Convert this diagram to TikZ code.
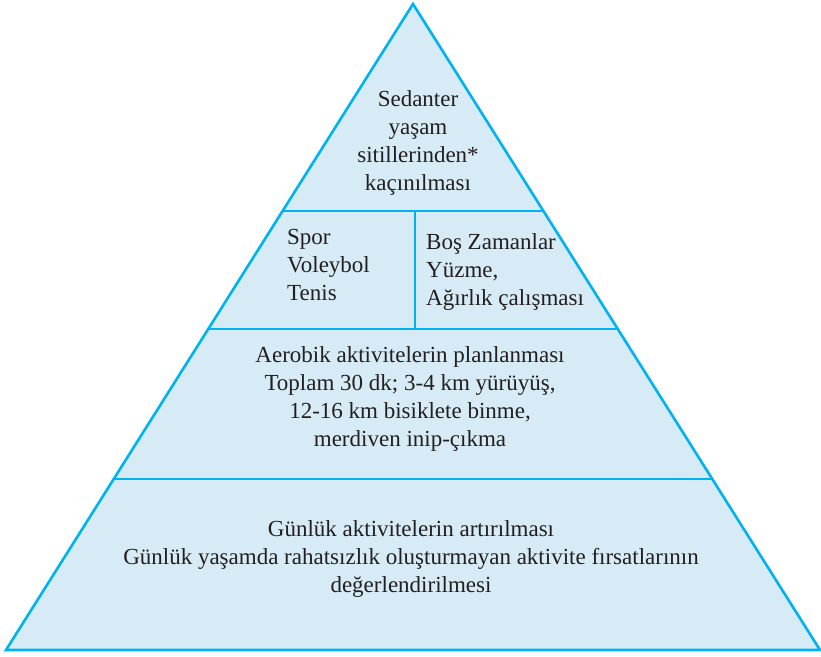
\documentclass[tikz,border=0pt]{standalone}
\usepackage{fontspec}
\setmainfont{Liberation Serif}
\usetikzlibrary{calc}
\definecolor{pyrline}{RGB}{0,178,240}
\definecolor{pyrfill}{RGB}{214,235,245}
\definecolor{pyrtext}{RGB}{35,31,32}
\tikzstyle{layer}=[draw=pyrline, line width=2.6pt]
\tikzstyle{txt}=[%
	inner sep=0, align=center, text=pyrtext,
	font=\fontsize{23}{27.7}\selectfont
]
\tikzstyle{txtl}=[txt, align=left, anchor=west]

\begin{document}
\begin{tikzpicture}[x=1pt, y=-1pt]
	\useasboundingbox (0,0) rectangle (821,656);

	\coordinate (apex) at (413,4);
	\coordinate (bl) at (6,650);
	\coordinate (br) at (820,650);

	\draw[layer, fill=pyrfill, line join=miter] (bl) -- (apex) -- (br) -- cycle;

	% layer borders
	\foreach \t in {0.6796, 0.4969, 0.2647} {
		\draw[layer] ($(bl)!\t!(apex)$) -- ($(br)!\t!(apex)$);
	}
	\coordinate (dtop) at (415,210);
	\coordinate (dbot) at (415,328);
	\draw[layer] (dtop) -- (dbot);

	\node[txt] (sedanter) at (418,143) {Sedanter\\yaşam\\sitillerinden*\\kaçınılması};
	\node[txtl] (spor) at (287,265) {Spor\\Voleybol\\Tenis};
	\node[txtl] (bos) at (426,272) {Boş Zamanlar\\Yüzme,\\Ağırlık çalışması};
	\node[txt] (aerobik) at (410,399) {Aerobik aktivitelerin planlanması\\Toplam 30 dk; 3-4 km yürüyüş,\\12-16 km bisiklete binme,\\merdiven inip-çıkma};
	\node[txt] (gunluk) at (411,559) {Günlük aktivitelerin artırılması\\Günlük yaşamda rahatsızlık oluşturmayan aktivite fırsatlarının\\değerlendirilmesi};
\end{tikzpicture}
\end{document}
